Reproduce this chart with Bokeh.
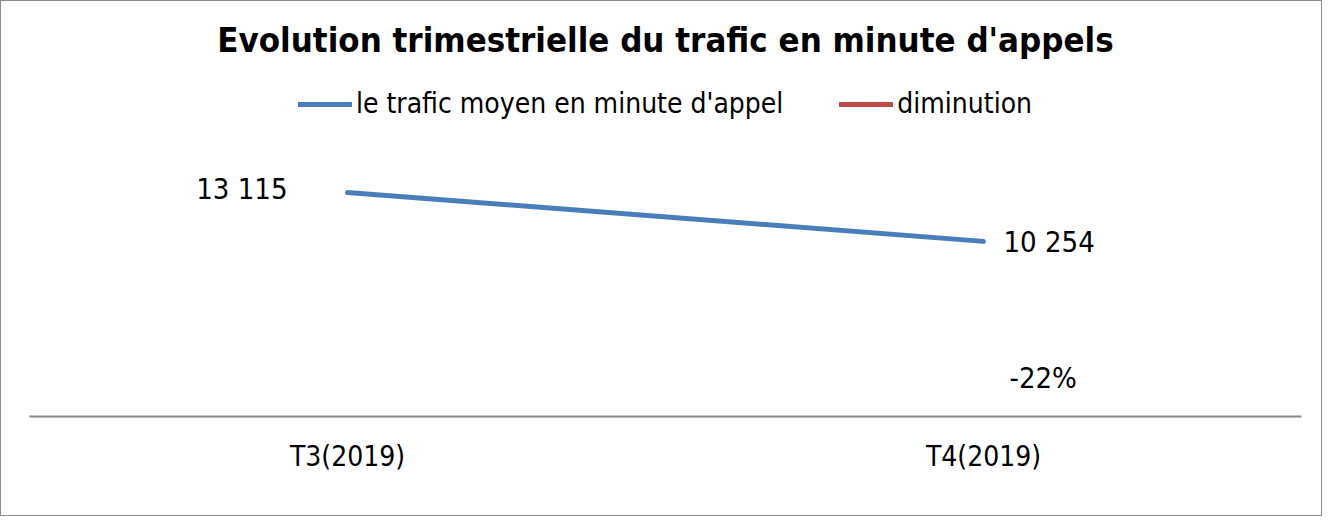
from bokeh.plotting import figure
from bokeh.models import ColumnDataSource, Legend, LegendItem, Range1d, FactorRange
from bokeh.embed import file_html
from bokeh.resources import INLINE
from bokeh.core.properties import value

# ---- data ----
categories = ["T3(2019)", "T4(2019)"]
trafic = [13115, 10254]
diminution = [float("nan"), -0.22]
series_names = ["le trafic moyen en minute d'appel", "diminution"]
title_text = "Evolution trimestrielle du trafic en minute d'appels"

FONT = "DejaVu Sans Condensed"
BLUE = "#4A7EBB"
RED = "#BE4B48"

src_t = ColumnDataSource(dict(
    x=categories, y=trafic,
    lab=[f"{v:,}".replace(",", " ") for v in trafic],
))
src_d = ColumnDataSource(dict(
    x=categories, y=diminution,
    lab=["" if v != v else f"{round(v*100)}%" for v in diminution],
))

p = figure(
    width=1322, height=516,
    x_range=FactorRange(*categories, range_padding=0),
    y_range=Range1d(0, 20200),
    output_backend="svg", toolbar_location=None,
    y_axis_location=None,
    min_border_left=28, min_border_right=22,
    min_border_top=70, min_border_bottom=101,
)
p.styles = {"border": "1px solid #8c8c8c"}
p.outline_line_color = None
p.xgrid.grid_line_color = None
p.ygrid.grid_line_color = None

p.title.text = title_text
p.title.align = "center"
p.title.text_font = FONT
p.title.text_font_size = "34.5px"
p.title.text_font_style = "bold"
p.title.text_color = "#000000"
p.title.standoff = 24

ax = p.xaxis[0]
ax.axis_line_color = "#868686"
ax.axis_line_width = 2
ax.major_tick_line_color = None
ax.minor_tick_line_color = None
ax.major_label_text_font = FONT
ax.major_label_text_font_size = "28px"
ax.major_label_text_color = "#000000"
ax.major_label_standoff = 17

r_t = p.line("x", "y", source=src_t, line_color=BLUE, line_width=5, line_cap="round")
r_d = p.line("x", "y", source=src_d, line_color=RED, line_width=5, line_cap="round")

# data labels
LBL = dict(text_font=value(FONT), text_font_size="29px", text_color="#000000",
           text_baseline="middle")
p.text(x=[categories[0]], y=[trafic[0]], text=[src_t.data["lab"][0]],
       text_align="right", x_offset=-60, y_offset=-4, **LBL)
p.text(x=[categories[1]], y=[trafic[1]], text=[src_t.data["lab"][1]],
       text_align="left", x_offset=20, y_offset=1, **LBL)
p.text(x=[categories[1]], y=[diminution[1]], text=[src_d.data["lab"][1]],
       text_align="left", x_offset=26, y_offset=-39, **LBL)

legend = Legend(
    items=[LegendItem(label=series_names[0], renderers=[r_t]),
           LegendItem(label=series_names[1], renderers=[r_d])],
    orientation="horizontal", location="top_center",
    label_text_font=FONT, label_text_font_size="28px", label_text_color="#000000",
    glyph_width=54, glyph_height=28, label_standoff=4, spacing=56,
    border_line_color=None, background_fill_alpha=0,
    padding=0, margin=16,
)
p.add_layout(legend, "center")

open("out.html", "w").write(file_html(p, INLINE))
